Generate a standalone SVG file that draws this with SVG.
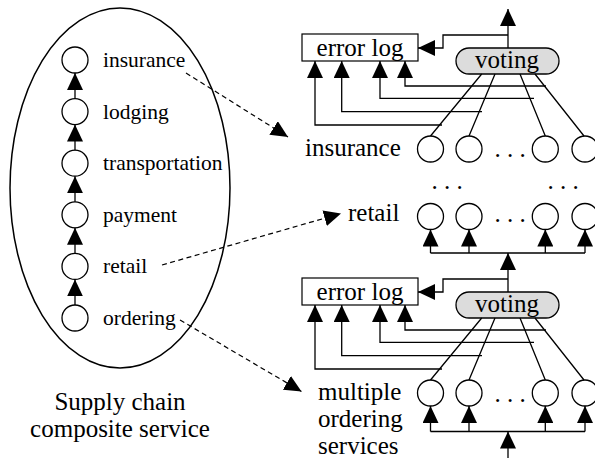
<svg xmlns="http://www.w3.org/2000/svg" width="595" height="466" viewBox="0 0 595 466">
  <style>
    .ln{fill:none;stroke:#000;stroke-width:1.3}
    .dash{fill:none;stroke:#000;stroke-width:1.2;stroke-dasharray:5 3.5}
    .nd{fill:#fff;stroke:#000;stroke-width:1.3}
    .box{fill:#fff;stroke:#000;stroke-width:1.2}
    .pill{fill:#dcdcdc;stroke:#000;stroke-width:1.3}
    .t{font-family:"Liberation Serif","Times New Roman",serif;fill:#000}
    .ts{font-size:21.5px}
    .tl{font-size:25px}
    .mid{text-anchor:middle}
  </style>
  <defs>
    <marker id="ah" viewBox="0 0 17 16" refX="17" refY="8" markerWidth="17" markerHeight="16" markerUnits="userSpaceOnUse" orient="auto">
      <path d="M0,0L17,8L0,16Z" fill="#000"/>
    </marker>
  </defs>
  <rect width="595" height="466" fill="#fff"/>

  <!-- composite service: chain of six steps inside an ellipse -->
  <g id="composite">
    <ellipse cx="120" cy="188" rx="110" ry="180" fill="none" stroke="#000" stroke-width="1.5"/>
    <text class="t tl mid" x="120" y="410">Supply chain</text>
    <text class="t tl mid" x="120" y="437">composite service</text>
  </g>
  <g id="step-insurance"><circle class="nd" cx="75" cy="60" r="13"/><text class="t ts" x="103" y="67">insurance</text></g>
  <g id="step-lodging"><circle class="nd" cx="75" cy="111.6" r="13"/><text class="t ts" x="103" y="118.6">lodging</text></g>
  <g id="step-transportation"><circle class="nd" cx="75" cy="163.2" r="13"/><text class="t ts" x="103" y="170.2">transportation</text></g>
  <g id="step-payment"><circle class="nd" cx="75" cy="214.8" r="13"/><text class="t ts" x="103" y="221.8">payment</text></g>
  <g id="step-retail"><circle class="nd" cx="75" cy="266.4" r="13"/><text class="t ts" x="103" y="273.4">retail</text></g>
  <g id="step-ordering"><circle class="nd" cx="75" cy="318" r="13"/><text class="t ts" x="103" y="325">ordering</text></g>

  <!-- upper redundant stage (insurance) -->
  <g id="log-top"><rect class="box" x="302" y="34" width="116" height="27"/><text class="t tl mid" x="360" y="56">error log</text></g>
  <g id="vote-top"><rect class="pill" x="456" y="48" width="103" height="26" rx="13"/><text class="t tl mid" x="507" y="68">voting</text></g>
  <g id="insurance-replicas">
    <text class="t tl" x="305" y="156">insurance</text>
    <circle class="nd" cx="430.5" cy="149" r="13"/>
    <circle class="nd" cx="469" cy="149" r="13"/>
    <text class="t tl mid" x="510" y="156.5">. . .</text>
    <circle class="nd" cx="545.3" cy="149" r="13"/>
    <circle class="nd" cx="585" cy="149" r="13"/>
  </g>
  <g id="gap-dots">
    <text class="t tl mid" x="447" y="188.5">. . .</text>
    <text class="t tl mid" x="563" y="188.5">. . .</text>
  </g>
  <g id="retail-replicas">
    <text class="t tl" x="348" y="221">retail</text>
    <circle class="nd" cx="430.5" cy="216.5" r="13"/>
    <circle class="nd" cx="469" cy="216.5" r="13"/>
    <text class="t tl mid" x="510" y="222">. . .</text>
    <circle class="nd" cx="545.3" cy="216.5" r="13"/>
    <circle class="nd" cx="585" cy="216.5" r="13"/>
  </g>

  <!-- lower redundant stage (ordering) -->
  <g id="log-bottom"><rect class="box" x="302" y="278" width="116" height="27"/><text class="t tl mid" x="360" y="300">error log</text></g>
  <g id="vote-bottom"><rect class="pill" x="456" y="292" width="103" height="26" rx="13"/><text class="t tl mid" x="507" y="312">voting</text></g>
  <g id="ordering-replicas">
    <text class="t tl" x="318" y="400">multiple</text>
    <text class="t tl" x="318" y="427">ordering</text>
    <text class="t tl" x="318" y="454">services</text>
    <circle class="nd" cx="430.5" cy="393" r="13"/>
    <circle class="nd" cx="469" cy="393" r="13"/>
    <text class="t tl mid" x="510" y="401.5">. . .</text>
    <circle class="nd" cx="545.3" cy="393" r="13"/>
    <circle class="nd" cx="585" cy="393" r="13"/>
  </g>

  <g id="connectors">
    <!-- chain inside the composite service -->
    <path class="ln" d="M75,98.6V73" marker-end="url(#ah)"/>
    <path class="ln" d="M75,150.2V124.6" marker-end="url(#ah)"/>
    <path class="ln" d="M75,201.8V176.2" marker-end="url(#ah)"/>
    <path class="ln" d="M75,253.4V227.8" marker-end="url(#ah)"/>
    <path class="ln" d="M75,305V279.4" marker-end="url(#ah)"/>

    <!-- mapping from steps to replicated services -->
    <path class="dash" d="M186,73L288,137" marker-end="url(#ah)"/>
    <path class="dash" d="M162,265L341,213.5" marker-end="url(#ah)"/>
    <path class="dash" d="M180,320L301.5,391.5" marker-end="url(#ah)"/>

    <!-- upper stage -->
    <path class="ln" d="M508,48V9" marker-end="url(#ah)"/>
    <path class="ln" d="M508,35H443V48H418" marker-end="url(#ah)"/>
    <path class="ln" d="M481.7,74L430.5,136M495,74L469,136M520,74L545.3,136M535,74L584,136"/>
    <path class="ln" d="M442,125H315V61" marker-end="url(#ah)"/>
    <path class="ln" d="M482,111.7H341.7V61" marker-end="url(#ah)"/>
    <path class="ln" d="M534,98.3H380V61" marker-end="url(#ah)"/>
    <path class="ln" d="M546,86H405V61" marker-end="url(#ah)"/>

    <!-- retail fan-in into lower stage output -->
    <path class="ln" d="M430.5,253H585"/>
    <path class="ln" d="M430.5,253V229.5" marker-end="url(#ah)"/>
    <path class="ln" d="M469,253V229.5" marker-end="url(#ah)"/>
    <path class="ln" d="M545.3,253V229.5" marker-end="url(#ah)"/>
    <path class="ln" d="M585,253V229.5" marker-end="url(#ah)"/>
    <path class="ln" d="M508,292V253" marker-end="url(#ah)"/>
    <path class="ln" d="M508,279H443V292H418" marker-end="url(#ah)"/>

    <!-- lower stage -->
    <path class="ln" d="M481.7,318L430.5,380M495,318L469,380M520,318L545.3,380M535,318L584,380"/>
    <path class="ln" d="M442,369H315V305" marker-end="url(#ah)"/>
    <path class="ln" d="M482,355.7H341.7V305" marker-end="url(#ah)"/>
    <path class="ln" d="M534,342.3H380V305" marker-end="url(#ah)"/>
    <path class="ln" d="M546,330H405V305" marker-end="url(#ah)"/>

    <!-- input fan-out to ordering replicas -->
    <path class="ln" d="M430.5,431.5H585"/>
    <path class="ln" d="M430.5,431.5V406" marker-end="url(#ah)"/>
    <path class="ln" d="M469,431.5V406" marker-end="url(#ah)"/>
    <path class="ln" d="M545.3,431.5V406" marker-end="url(#ah)"/>
    <path class="ln" d="M585,431.5V406" marker-end="url(#ah)"/>
    <path class="ln" d="M508,458V431.5" marker-end="url(#ah)"/>
  </g>
</svg>
